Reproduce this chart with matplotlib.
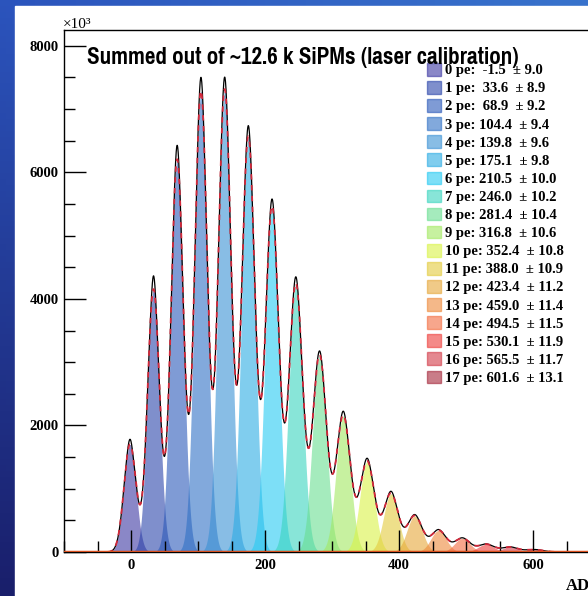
import numpy as np
import matplotlib
matplotlib.use("Agg")
import matplotlib.pyplot as plt
from matplotlib import font_manager as fm
from matplotlib.patches import Patch, Rectangle
from matplotlib.ticker import MultipleLocator

# fitted photo-electron peaks (from legend)
n_pe = list(range(18))
means = [-1.5, 33.6, 68.9, 104.4, 139.8, 175.1, 210.5, 246.0, 281.4,
         316.8, 352.4, 388.0, 423.4, 459.0, 494.5, 530.1, 565.5, 601.6]
sigmas = [9.0, 8.9, 9.2, 9.4, 9.6, 9.8, 10.0, 10.2, 10.4,
          10.6, 10.8, 10.9, 11.2, 11.4, 11.5, 11.9, 11.7, 13.1]
# heights
fit_heights = [1700, 4150, 6200, 7280, 7300, 6550, 5450, 4230, 3100,
               2150, 1430, 920, 570, 340, 215, 122, 78, 38]
data_heights = [1780, 4360, 6420, 7490, 7490, 6720, 5560, 4330, 3160,
                2210, 1470, 950, 585, 350, 221, 126, 80, 40]

# legend swatch colours (as seen on white)
swatch = ['#8a87c8', '#7f8fcc', '#7f9bd5', '#82aadc', '#88bde6', '#80cdef',
          '#7ddff7', '#88e5d8', '#a5ebbd', '#c8f2a0', '#e8f890', '#eee08a',
          '#f0ca88', '#f5b889', '#f8a68c', '#f58a88', '#e48890', '#c97d88']
ALPHA = 0.6

title = "Summed out of ~12.6 k SiPMs (laser calibration)"


def base_color(hexc):
    rgb = np.array(matplotlib.colors.to_rgb(hexc))
    return tuple(np.clip((rgb - (1 - ALPHA)) / ALPHA, 0, 1))


def condensed_bold():
    # look for a narrow / condensed bold face, else plain bold sans
    best = None
    for f in fm.fontManager.ttflist:
        nm = (f.name + ' ' + str(f.stretch)).lower()
        w = f.weight if isinstance(f.weight, int) else 700 * ('bold' in str(f.weight))
        if w >= 600 and ('condensed' in nm or 'narrow' in nm) and 'extra' not in str(f.stretch):
            if best is None or 'narrow' in nm:
                best = f
    if best is not None:
        return fm.FontProperties(fname=best.fname)
    return fm.FontProperties(family=['Roboto', 'DejaVu Sans'], weight='bold')


W, H = 588, 596
fig = plt.figure(figsize=(W / 100, H / 100), dpi=100)

# blue gradient background + white panel
bg = fig.add_axes([0, 0, 1, 1], zorder=-10)
yy, xx = np.mgrid[0:1:100j, 0:1:100j]
tl = np.array([0.17, 0.33, 0.74])
bl = np.array([0.10, 0.12, 0.42])
tr = np.array([0.22, 0.45, 0.80])
img = tl + (bl - tl) * yy[..., None] + (tr - tl) * xx[..., None] * (1 - yy[..., None])
bg.imshow(np.clip(img, 0, 1), aspect='auto', extent=[0, 1, 0, 1], origin='upper')
bg.add_patch(Rectangle((15 / W, 0), 1, 1 - 6 / H, color='white'))
bg.set_xlim(0, 1)
bg.set_ylim(0, 1)
bg.axis('off')

ax = fig.add_axes([64 / W, (H - 552) / H, 536 / W, 522 / H])
x = np.linspace(-100, 700, 4000)


def gauss(a, m, s):
    return a * np.exp(-0.5 * ((x - m) / s) ** 2)


fit_sum = np.zeros_like(x)
data_sum = np.zeros_like(x)
handles = []
for i, m, s, a, d, c in zip(n_pe, means, sigmas, fit_heights, data_heights, swatch):
    g = gauss(a, m, s)
    fit_sum += g
    data_sum += g + gauss(d - a, m, s * 0.3)
    bc = base_color(c)
    ax.fill_between(x, 0, g, color=bc, alpha=ALPHA, lw=0)
    handles.append(Patch(facecolor=bc, edgecolor=bc, alpha=ALPHA, lw=1,
                         label=f"{i} pe: {m:5.1f}  \u00b1 {s:.1f}"))

ax.plot(x, data_sum, color='black', lw=0.9, zorder=3)
mask = (x > -35) & (x < 650)
ax.plot(x[mask], fit_sum[mask], color='#d4283a', lw=1.3, ls=(0, (3, 3)), zorder=4)
ax.axhline(0, color='#d9501e', lw=2.5, zorder=5)

ax.set_xlim(-100, 700)
ax.set_ylim(0, 8250)
ax.spines['right'].set_visible(False)
for sp in ax.spines.values():
    sp.set_linewidth(1.0)
ax.xaxis.set_major_locator(MultipleLocator(200))
ax.xaxis.set_minor_locator(MultipleLocator(50))
ax.yaxis.set_major_locator(MultipleLocator(2000))
ax.yaxis.set_minor_locator(MultipleLocator(500))
ax.tick_params(which='both', direction='in', top=False, right=False, width=1.0)
ax.tick_params(which='major', length=16)
ax.tick_params(which='minor', length=8)
ax.tick_params(axis='x', pad=5)
ax.tick_params(axis='y', pad=4)
serif = ['Liberation Serif', 'DejaVu Serif']
for lab in ax.get_xticklabels() + ax.get_yticklabels():
    lab.set_family(serif)
    lab.set_weight('bold')
    lab.set_fontsize(10.5)

ax.legend(handles=handles, loc='upper left', bbox_to_anchor=(427 / W, 1 - 63 / H),
          bbox_transform=fig.transFigure, frameon=False, borderpad=0,
          borderaxespad=0, handlelength=0.95, handleheight=0.95,
          handletextpad=0.3, labelspacing=0.26,
          prop={'family': serif, 'weight': 'bold', 'size': 10.5})

tfont = condensed_bold()
tfont.set_size(16)
t = fig.text(87 / W, 1 - 58 / H, title, fontproperties=tfont,
             ha='left', va='center')
# fit the title to the width it has in the picture (~432 px)
fig.canvas.draw()
tw = t.get_window_extent().width
tfont.set_size(16 * 432 / tw)
t.set_fontproperties(tfont)

fig.text(63 / W, 1 - 24 / H, "\u00d710\u00b3", family=serif, fontsize=11,
         ha='left', va='center')
fig.text(566 / W, 1 - 586 / H, "ADC", family=serif, weight='bold', fontsize=12,
         ha='left', va='center')

fig.savefig('out.png', dpi=100)
